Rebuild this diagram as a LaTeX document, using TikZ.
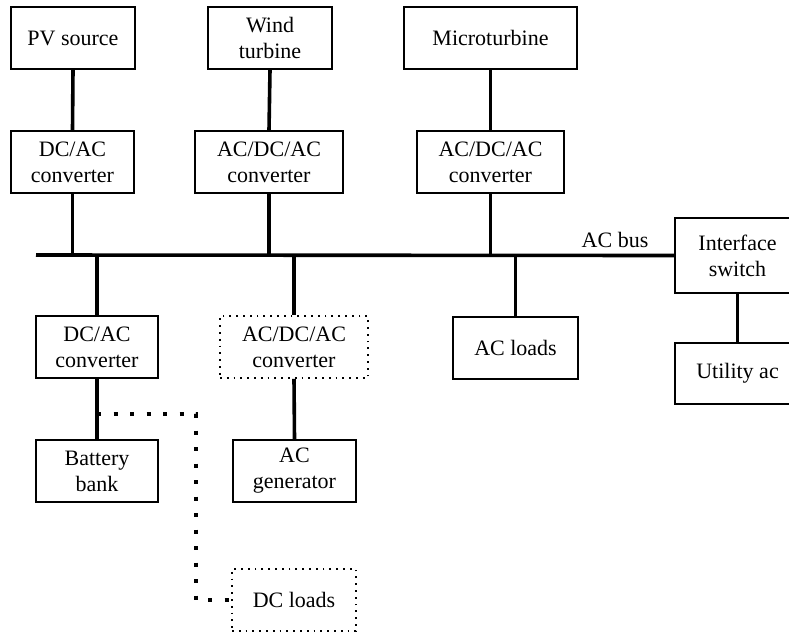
\documentclass[tikz,border=0pt]{standalone}
\usepackage{fontspec}
\setmainfont{Liberation Serif}
\begin{document}
\begin{tikzpicture}[x=1pt,y=-1pt,
  unitbox/.style={draw, line width=1.8pt, align=center, inner sep=0pt,
    font=\fontsize{22}{26}\selectfont, minimum height=62pt},
  optbox/.style={unitbox, solid, dash pattern=on 1.8pt off 5pt},
  link/.style={line width=3.6pt},
  dcfeed/.style={line width=4pt, dash pattern=on 4pt off 12.5pt}]
\useasboundingbox (0,0) rectangle (789,635);
\clip (0,0) rectangle (789,635);

% sources
\node[unitbox, minimum width=124pt] (pv) at (73,38) {PV source};
\node[unitbox, minimum width=124pt] (wind) at (270,38) {Wind\\turbine};
\node[unitbox, minimum width=173pt] (micro) at (490.5,38) {Microturbine};

% source converters
\node[unitbox, minimum width=123pt] (conv1) at (72.5,162) {DC/AC\\converter};
\node[unitbox, minimum width=148pt] (conv2) at (269,162) {AC/DC/AC\\converter};
\node[unitbox, minimum width=147pt] (conv3) at (490.5,162) {AC/DC/AC\\converter};

% AC bus and grid side (the grid-side boxes run past the right edge)
\coordinate (busL) at (36,255);
\node[unitbox, minimum width=125pt, minimum height=75pt] (iface) at (737.5,255.5) {Interface\\switch};
\node[unitbox, minimum width=125pt, minimum height=61pt] (util) at (737.5,373.5) {Utility ac};
\node[font=\fontsize{22}{26}\selectfont] (buslabel) at (615,240) {AC bus};

% storage, generator and loads
\node[unitbox, minimum width=122pt] (conv4) at (97,347) {DC/AC\\converter};
\node[optbox, minimum width=148pt] (conv5) at (294,347) {AC/DC/AC\\converter};
\node[unitbox, minimum width=125pt] (acload) at (515.5,348) {AC loads};
\node[unitbox, minimum width=122pt] (batt) at (97,471) {Battery\\bank};
\node[unitbox, minimum width=123pt] (acgen) at (294.5,471) {AC\\generator};
\node[optbox, minimum width=124pt] (dcload) at (294,600) {DC loads};

% connections
\draw[link] (busL) -- (iface.west);
\draw[link] (pv.south) -- (conv1.north);
\draw[link] (wind.south) -- (conv2.north);
\draw[link] (micro.south) -- (conv3.north);
\draw[link] (conv1.south) -- (conv1.south |- busL);
\draw[link] (conv2.south) -- (conv2.south |- busL);
\draw[link] (conv3.south) -- (conv3.south |- busL);
\draw[link] (conv4.north) -- (conv4.north |- busL);
\draw[link] (conv5.north) -- (conv5.north |- busL);
\draw[link] (acload.north) -- (acload.north |- busL);
\draw[link] (iface.south) -- (util.north);
\draw[link] (conv4.south) -- (batt.north);
\draw[link] (conv5.south) -- (acgen.north);

% DC feed to the DC loads
\coordinate (tap) at (97,414);
\draw[dcfeed] (tap) -- (196,414) -- (196,600) -- (dcload.west);
\end{tikzpicture}
\end{document}
